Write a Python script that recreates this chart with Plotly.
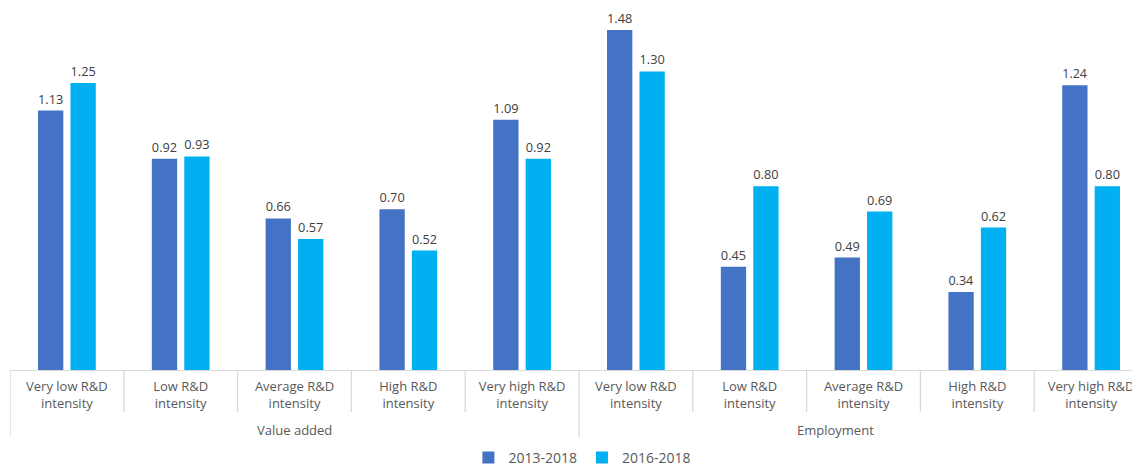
import plotly.graph_objects as go

groups = ["Value added", "Employment"]
categories = ["Very low R&D intensity", "Low R&D intensity", "Average R&D intensity",
              "High R&D intensity", "Very high R&D intensity"]
tick_labels = ["Very low R&D<br>intensity", "Low R&D<br>intensity", "Average R&D<br>intensity",
               "High R&D<br>intensity", "Very high R&D<br>intensity"]
series_names = ["2013-2018", "2016-2018"]
values_2013_2018 = [1.13, 0.92, 0.66, 0.70, 1.09, 1.48, 0.45, 0.49, 0.34, 1.24]
values_2016_2018 = [1.25, 0.93, 0.57, 0.52, 0.92, 1.30, 0.80, 0.69, 0.62, 0.80]
colors = ["#4472C4", "#00B0F0"]

ids = [f"{g}|{c}" for g in groups for c in categories]
ticktext = tick_labels * len(groups)

FONT = "Open Sans"
GREY = "#595959"
LINE = "#D9D9D9"

fig = go.Figure()
for name, vals, col in zip(series_names, [values_2013_2018, values_2016_2018], colors):
    fig.add_trace(go.Bar(
        x=ids, y=vals, name=name, marker=dict(color=col, line=dict(width=0)),
        texttemplate="%{y:.2f}", textposition="outside", cliponaxis=False,
        textfont=dict(family=FONT, size=13, color="#404040"),
    ))

# page body has an 8px margin; figure coordinates are window coordinates - 8
H_PLOT = 362.0
shapes = []
n = len(ids)
for i in range(n):
    b = i - 0.5
    is_group = (i % len(categories) == 0)
    shapes.append(dict(type="line", xref="x", yref="paper", x0=b, x1=b, y0=0,
                       y1=-(67 if is_group else 42) / H_PLOT,
                       line=dict(color=LINE, width=1.3)))

annotations = []
for gi, g in enumerate(groups):
    center = gi * len(categories) + (len(categories) - 1) / 2
    if gi == len(groups) - 1:
        center -= 0.25
    annotations.append(dict(text=g, x=center, xref="x", y=-60 / H_PLOT, yref="paper",
                            showarrow=False, yanchor="middle",
                            font=dict(family=FONT, size=13, color=GREY)))

fig.update_layout(
    width=1140, height=467,
    margin=dict(l=2, r=0, t=0, b=105, autoexpand=False),
    plot_bgcolor="white", paper_bgcolor="white",
    barmode="group", bargap=0.43, bargroupgap=0.22,
    shapes=shapes, annotations=annotations,
    legend=dict(orientation="h", x=0.503, xanchor="center", y=-88 / H_PLOT, yanchor="middle",
                font=dict(family=FONT, size=14, color=GREY), itemwidth=30,
                traceorder="normal"),
    xaxis=dict(type="category", range=[-0.5, n - 0.5], tickmode="array", tickvals=ids,
               ticktext=ticktext, showline=True, linecolor=LINE, linewidth=1.3,
               automargin=False, ticklabelstandoff=4,
               showgrid=False, ticks="", tickfont=dict(family=FONT, size=13, color=GREY)),
    yaxis=dict(range=[0, H_PLOT / 229.7], visible=False, showgrid=False, zeroline=False,
               automargin=False),
    font=dict(family=FONT, color=GREY),
)

fig.write_html("out.html")
